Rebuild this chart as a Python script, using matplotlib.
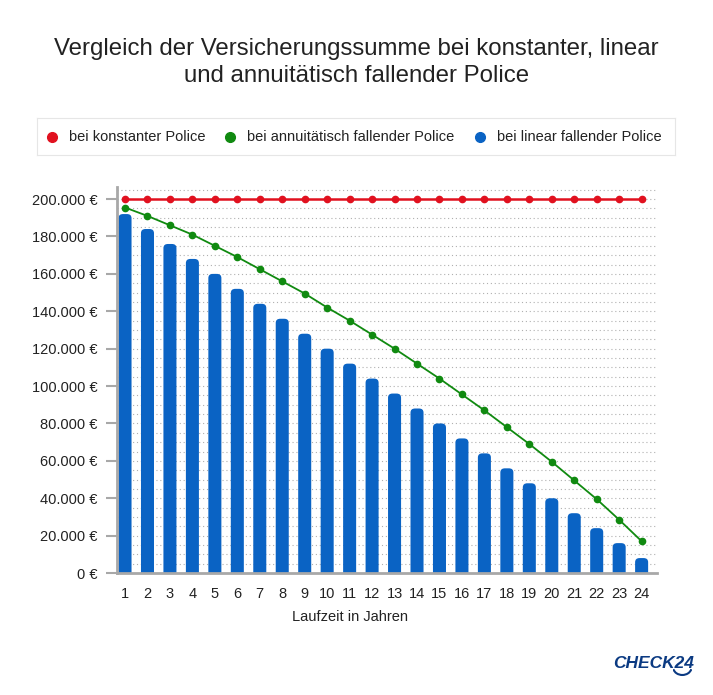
import numpy as np
import matplotlib.pyplot as plt
from matplotlib.patches import Arc, FancyBboxPatch

plt.rcParams['font.family'] = ['Liberation Sans', 'DejaVu Sans']

jahre = list(range(1, 25))
konstant = [200000] * 24
annuitaet = [195500, 191000, 186000, 181000, 175000, 169000, 162500, 156000,
             149500, 142000, 135000, 127500, 120000, 112000, 104000, 95500,
             87000, 78000, 69000, 59500, 49500, 39500, 28500, 17000]
linear = [192000, 184000, 176000, 168000, 160000, 152000, 144000, 136000,
          128000, 120000, 112000, 104000, 96000, 88000, 80000, 72000,
          64000, 56000, 48000, 40000, 32000, 24000, 16000, 8000]
y_ticks = list(range(0, 200001, 20000))
y_labels = ['0 €'] + ['{:,} €'.format(v).replace(',', '.') for v in y_ticks[1:]]

rot = '#e1111f'
gruen = '#108a10'
blau = '#0a63c4'
text_col = '#222222'

fig = plt.figure(figsize=(7.13, 6.95), dpi=100)
ax = fig.add_axes([0.164, 0.1755, 0.757, 0.5555])

# Gitter alle 5000
for g in range(5000, 205001, 5000):
    ax.axhline(g, color='#b0b0b0', lw=0.8, ls=(0, (1, 2.5)), zorder=0)

# Balken mit runden Ecken oben (unten unter die Achse geschoben)
bw = 0.58
r_x = 0.2
aspect = 11000
for j, v in zip(jahre, linear):
    p = FancyBboxPatch((j - bw / 2, -5000), bw, v + 5000,
                       boxstyle='round,pad=0,rounding_size=%f' % r_x,
                       mutation_aspect=aspect, fc=blau, ec='none', zorder=2)
    ax.add_patch(p)

ax.plot(jahre, annuitaet, color=gruen, lw=1.3, marker='o', ms=4.5, zorder=3)
ax.plot(jahre, konstant, color=rot, lw=1.8, marker='o', ms=4.5, zorder=3)

ax.set_xlim(0.64, 24.67)
ax.set_ylim(0, 206500)
ax.set_xticks(jahre)
ax.set_xticklabels([str(j) for j in jahre], fontsize=10.5, color=text_col)
ax.tick_params(axis='x', length=0, pad=10)
ax.set_yticks(y_ticks)
ax.set_yticklabels(y_labels, fontsize=10.5, color=text_col)
ax.tick_params(axis='y', length=8, width=1.5, color='#a8a8a8', pad=6)
for s in ['top', 'right']:
    ax.spines[s].set_visible(False)
for s in ['left', 'bottom']:
    ax.spines[s].set_color('#a8a8a8')
    ax.spines[s].set_linewidth(2)
    ax.spines[s].set_zorder(4)

fig.text(0.491, 0.112, 'Laufzeit in Jahren', ha='center', va='center',
         fontsize=10.5, color=text_col)

fig.text(0.5, 0.929, 'Vergleich der Versicherungssumme bei konstanter, linear',
         ha='center', va='center', fontsize=17.3, color=text_col)
fig.text(0.5, 0.891, 'und annuitätisch fallender Police',
         ha='center', va='center', fontsize=17.3, color=text_col)

# Legende
leg_ax = fig.add_axes([0.052, 0.777, 0.895, 0.053])
leg_ax.set_xlim(0, 1)
leg_ax.set_ylim(0, 1)
leg_ax.set_xticks([])
leg_ax.set_yticks([])
for s in leg_ax.spines.values():
    s.set_color('#e6e6e6')
eintraege = [('bei konstanter Police', rot, 0.0235),
             ('bei annuitätisch fallender Police', gruen, 0.302),
             ('bei linear fallender Police', blau, 0.694)]
for name, farbe, xp in eintraege:
    leg_ax.plot([xp], [0.5], 'o', color=farbe, ms=7)
    leg_ax.text(xp + 0.027, 0.5, name, va='center', fontsize=10.5, color=text_col)

# Logo
fig.text(0.916, 0.045, 'CHECK24', ha='center', va='center', fontsize=12.5,
         fontweight='bold', style='italic', color='#0b3a82')
logo_ax = fig.add_axes([0.944, 0.024, 0.026, 0.016])
logo_ax.axis('off')
logo_ax.set_xlim(0, 1)
logo_ax.set_ylim(0, 1)
logo_ax.add_patch(Arc((0.5, 1.0), 1.0, 1.4, theta1=200, theta2=340,
                      color='#0b3a82', lw=1.5))

fig.savefig('out.png', dpi=100)
